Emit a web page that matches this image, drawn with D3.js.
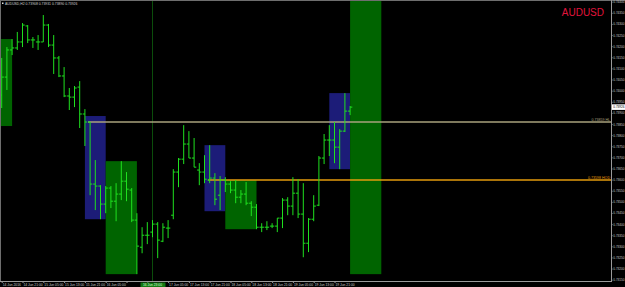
<!DOCTYPE html>
<html>
<head>
<meta charset="utf-8">
<script src="https://cdn.jsdelivr.net/npm/d3@7"></script>
<style>
  body { margin: 0; background: #000; }
  svg { display: block; }
</style>
</head>
<body>
<div id="chart"></div>
<script>
/* canvas size and plot area (price axis on the right, time axis below) */
var width = 625,
    height = 287;
var plot = { left: 1, right: 611, top: 0, bottom: 281 };

/* ---- data ---- */
var symbol = "AUDUSD";
var header = "AUDUSD,H2  0.73908 0.73931 0.73890 0.73926";

var opens  = [0.73980, 0.74061, 0.74183, 0.74192, 0.74219, 0.74291, 0.74228, 0.74219, 0.74219, 0.74295,
              0.74205, 0.74147, 0.74066, 0.73976, 0.73971, 0.74016, 0.73895, 0.73859, 0.73580, 0.73571,
              0.73490, 0.73562, 0.73503, 0.73535, 0.73593, 0.73553, 0.73418, 0.73296, 0.73350, 0.73364,
              0.73400, 0.73323, 0.73382, 0.73440, 0.73634, 0.73692, 0.73760, 0.73697, 0.73643, 0.73634,
              0.73598, 0.73607, 0.73530, 0.73598, 0.73580, 0.73553, 0.73521, 0.73535, 0.73494, 0.73476,
              0.73386, 0.73386, 0.73391, 0.73391, 0.73427, 0.73508, 0.73481, 0.73539, 0.73445, 0.73314,
              0.73422, 0.73485, 0.73697, 0.73778, 0.73778, 0.73746, 0.73818, 0.73908];
var highs  = [0.74147, 0.74196, 0.74232, 0.74264, 0.74304, 0.74295, 0.74241, 0.74250, 0.74340, 0.74300,
              0.74250, 0.74156, 0.74106, 0.74012, 0.74021, 0.74043, 0.73917, 0.73859, 0.73688, 0.73575,
              0.73571, 0.73571, 0.73584, 0.73683, 0.73634, 0.73562, 0.73449, 0.73386, 0.73409, 0.73418,
              0.73409, 0.73404, 0.73418, 0.73647, 0.73697, 0.73845, 0.73818, 0.73787, 0.73674, 0.73710,
              0.73755, 0.73629, 0.73616, 0.73611, 0.73593, 0.73598, 0.73553, 0.73589, 0.73503, 0.73490,
              0.73404, 0.73413, 0.73404, 0.73427, 0.73517, 0.73521, 0.73611, 0.73602, 0.73584, 0.73427,
              0.73530, 0.73706, 0.73805, 0.73845, 0.73859, 0.73827, 0.73989, 0.73931];
var lows   = [0.73922, 0.74003, 0.74160, 0.74183, 0.74196, 0.74214, 0.74192, 0.74183, 0.74219, 0.74196,
              0.74075, 0.74061, 0.73971, 0.73913, 0.73926, 0.73832, 0.73751, 0.73530, 0.73463, 0.73422,
              0.73449, 0.73472, 0.73413, 0.73508, 0.73503, 0.73409, 0.73175, 0.73269, 0.73310, 0.73341,
              0.73247, 0.73319, 0.73337, 0.73422, 0.73566, 0.73670, 0.73697, 0.73656, 0.73575, 0.73584,
              0.73584, 0.73485, 0.73463, 0.73544, 0.73539, 0.73494, 0.73494, 0.73485, 0.73436, 0.73377,
              0.73364, 0.73373, 0.73382, 0.73364, 0.73382, 0.73440, 0.73440, 0.73427, 0.73251, 0.73274,
              0.73413, 0.73481, 0.73670, 0.73706, 0.73674, 0.73647, 0.73814, 0.73890];
var closes = [0.74061, 0.74183, 0.74192, 0.74219, 0.74295, 0.74228, 0.74228, 0.74219, 0.74295, 0.74205,
              0.74147, 0.74066, 0.73976, 0.73971, 0.74012, 0.73895, 0.73859, 0.73580, 0.73571, 0.73490,
              0.73562, 0.73503, 0.73535, 0.73593, 0.73557, 0.73418, 0.73301, 0.73350, 0.73350, 0.73400,
              0.73328, 0.73386, 0.73382, 0.73634, 0.73692, 0.73760, 0.73697, 0.73656, 0.73634, 0.73602,
              0.73607, 0.73512, 0.73598, 0.73580, 0.73553, 0.73521, 0.73535, 0.73494, 0.73476, 0.73386,
              0.73386, 0.73386, 0.73391, 0.73427, 0.73508, 0.73481, 0.73539, 0.73445, 0.73314, 0.73422,
              0.73481, 0.73697, 0.73778, 0.73778, 0.73746, 0.73818, 0.73908, 0.73926];

/* time axis: one label every 4 bars */
var timeLabels = ["14 Jun 2016", "14 Jun 21:00", "15 Jun 05:00", "15 Jun 13:00", "15 Jun 21:00",
                  "16 Jun 05:00", "16 Jun 13:00", "16 Jun 21:00", "17 Jun 05:00", "17 Jun 13:00",
                  "17 Jun 21:00", "18 Jun 05:00", "18 Jun 13:00", "18 Jun 21:00", "19 Jun 05:00",
                  "19 Jun 13:00", "19 Jun 21:00"];
var priceTicks = [0.74400, 0.74350, 0.74300, 0.74250, 0.74200, 0.74150, 0.74100, 0.74050, 0.74000,
                  0.73950, 0.73900, 0.73850, 0.73800, 0.73750, 0.73700, 0.73650, 0.73600, 0.73550,
                  0.73500, 0.73450, 0.73400, 0.73350, 0.73300, 0.73250, 0.73200, 0.73150];

/* zones (rectangles), bar index from/to and price top/bottom */
var zoneFrom   = [-1, 16, 20, 39, 43, 63, 67];
var zoneTo     = [2, 20, 26, 43, 49, 67, 73];
var zoneTop    = [0.74232, 0.73886, 0.73683, 0.73755, 0.73598, 0.73989, 0.74500];
var zoneBottom = [0.73841, 0.73422, 0.73175, 0.73458, 0.73377, 0.73647, 0.73175];
var zoneKind   = ["demand", "supply", "demand", "supply", "demand", "supply", "demand"];

/* horizontal levels drawn from a start bar to the right edge */
var levelPrice = [0.73859, 0.73598];
var levelStart = [16.6, 39.7];
var levelTag   = ["0.73859  HL", "0.73598  HOD"];

/* vertical line */
var markerBar = 29;
var markerLabel = "16 Jun 23:00";

/* ---- scales ---- */
var x = d3.scaleLinear().domain([0, 67]).range([1.7, 350.1]);
var y = d3.scaleLinear().domain([0.74400, 0.73150]).range([1.7, 279.7]);

var zoneFill = { demand: "#006400", supply: "#1c1c78" };
var levelColor = ["#a9a27c", "#e39b0c"];
var barColor = "#1fe01f";
var axisFont = "Liberation Sans, Arial, sans-serif";

var svg = d3.select("#chart")
    .append("svg")
    .attr("width", width)
    .attr("height", height)
    .style("background", "#000");

svg.append("clipPath").attr("id", "clip")
    .append("rect")
    .attr("x", plot.left).attr("y", plot.top)
    .attr("width", plot.right - plot.left).attr("height", plot.bottom - plot.top);

var g = svg.append("g").attr("clip-path", "url(#clip)");

/* rectangles behind everything */
g.selectAll(".zone")
    .data(zoneFrom)
    .enter().append("rect")
    .attr("class", "zone")
    .attr("x", function (d, i) { return x(zoneFrom[i]); })
    .attr("y", function (d, i) { return y(zoneTop[i]); })
    .attr("width", function (d, i) { return x(zoneTo[i]) - x(zoneFrom[i]); })
    .attr("height", function (d, i) { return y(zoneBottom[i]) - y(zoneTop[i]); })
    .attr("fill", function (d, i) { return zoneFill[zoneKind[i]]; });

/* vertical marker line */
g.append("line")
    .attr("x1", x(markerBar)).attr("x2", x(markerBar))
    .attr("y1", plot.top).attr("y2", plot.bottom)
    .attr("stroke", "#0b4d0b")
    .attr("stroke-width", 1);

/* horizontal levels */
g.selectAll(".level")
    .data(levelPrice)
    .enter().append("line")
    .attr("class", "level")
    .attr("x1", function (d, i) { return x(levelStart[i]); })
    .attr("x2", plot.right)
    .attr("y1", function (d) { return y(d); })
    .attr("y2", function (d) { return y(d); })
    .attr("stroke", function (d, i) { return levelColor[i]; })
    .attr("stroke-width", 1.4);

g.selectAll(".levelTag")
    .data(levelPrice)
    .enter().append("text")
    .attr("class", "levelTag")
    .attr("x", plot.right - 1)
    .attr("y", function (d) { return y(d) - 1.2; })
    .attr("text-anchor", "end")
    .attr("font-family", axisFont)
    .attr("font-size", 3.6)
    .attr("fill", function (d, i) { return levelColor[i]; })
    .text(function (d, i) { return levelTag[i]; });

/* OHLC bars */
var bars = g.selectAll(".bar")
    .data(opens)
    .enter().append("g")
    .attr("class", "bar")
    .attr("stroke", barColor)
    .attr("stroke-width", 1);

bars.append("line")
    .attr("x1", function (d, i) { return x(i); })
    .attr("x2", function (d, i) { return x(i); })
    .attr("y1", function (d, i) { return y(highs[i]); })
    .attr("y2", function (d, i) { return y(lows[i]); });

bars.append("line")
    .attr("x1", function (d, i) { return x(i) - 2.2; })
    .attr("x2", function (d, i) { return x(i); })
    .attr("y1", function (d, i) { return y(opens[i]); })
    .attr("y2", function (d, i) { return y(opens[i]); });

bars.append("line")
    .attr("x1", function (d, i) { return x(i); })
    .attr("x2", function (d, i) { return x(i) + 2.2; })
    .attr("y1", function (d, i) { return y(closes[i]); })
    .attr("y2", function (d, i) { return y(closes[i]); });

/* frame */
svg.append("line").attr("x1", 0).attr("x2", width).attr("y1", 0.5).attr("y2", 0.5)
    .attr("stroke", "#6e6e6e");
svg.append("line").attr("x1", 0.5).attr("x2", 0.5).attr("y1", 0).attr("y2", plot.bottom)
    .attr("stroke", "#6e6e6e");

/* price axis on the right */
var yAxis = d3.axisRight(y)
    .tickValues(priceTicks)
    .tickSize(1.5)
    .tickPadding(0.8)
    .tickFormat(d3.format(".5f"));

var ya = svg.append("g")
    .attr("transform", "translate(" + plot.right + ",0)")
    .call(yAxis);
ya.select(".domain").attr("stroke", "#9a9a9a").attr("d", "M0.5," + plot.top + "V" + plot.bottom);
ya.selectAll(".tick line").attr("stroke", "#9a9a9a");
ya.selectAll(".tick text")
    .attr("fill", "#c8c8c8")
    .attr("font-family", axisFont)
    .attr("font-size", 3.1);

/* time axis at the bottom, label left-aligned on its bar */
var tickBars = timeLabels.map(function (d, i) { return i * 4; });
var labelWidth = 17;
var markerX = x(markerBar);

var xAxis = d3.axisBottom(x)
    .tickValues(tickBars)
    .tickSize(2)
    .tickPadding(1)
    .tickFormat(function (d, i) { return timeLabels[i]; });

var xa = svg.append("g")
    .attr("transform", "translate(0," + plot.bottom + ")")
    .call(xAxis);
xa.select(".domain").attr("stroke", "#9a9a9a").attr("d", "M0," + 0.5 + "H" + (plot.right + 1));
xa.selectAll(".tick line").attr("stroke", "#9a9a9a");
xa.selectAll(".tick text")
    .attr("fill", "#c8c8c8")
    .attr("font-family", axisFont)
    .attr("font-size", 3.3)
    .attr("text-anchor", "start")
    .attr("x", 0.5)
    .style("display", function (d) {
        var lx = x(d);
        return (lx + labelWidth > markerX - 12 && lx < markerX + 13) ? "none" : null;
    });

/* label of the vertical marker */
svg.append("rect")
    .attr("x", markerX - 12).attr("y", plot.bottom + 1.5)
    .attr("width", 25).attr("height", 5)
    .attr("fill", "#137a13");
svg.append("text")
    .attr("x", markerX).attr("y", plot.bottom + 5.3)
    .attr("text-anchor", "middle")
    .attr("font-family", axisFont)
    .attr("font-size", 3.3)
    .attr("fill", "#d8ffd8")
    .text(markerLabel);

/* current price tag */
var last = closes[closes.length - 1];
svg.append("rect")
    .attr("x", plot.right + 1).attr("y", y(last) - 2.8)
    .attr("width", width - plot.right - 1).attr("height", 5.6)
    .attr("fill", "#ffffff");
svg.append("text")
    .attr("x", plot.right + 2.3).attr("y", y(last) + 1.2)
    .attr("font-family", axisFont)
    .attr("font-size", 3.1)
    .attr("fill", "#000")
    .text(d3.format(".5f")(last));

/* header and symbol watermark */
svg.append("rect").attr("x", 2).attr("y", 2.5).attr("width", 1.5).attr("height", 1.5).attr("fill", "#ddd");
svg.append("text")
    .attr("x", 5).attr("y", 5.3)
    .attr("font-family", axisFont)
    .attr("font-size", 3.4)
    .attr("fill", "#d0d0d0")
    .text(header);

svg.append("text")
    .attr("x", 604).attr("y", 15.5)
    .attr("text-anchor", "end")
    .attr("font-family", axisFont)
    .attr("font-size", 10)
    .attr("fill", "#e0143c")
    .text(symbol);
</script>
</body>
</html>
